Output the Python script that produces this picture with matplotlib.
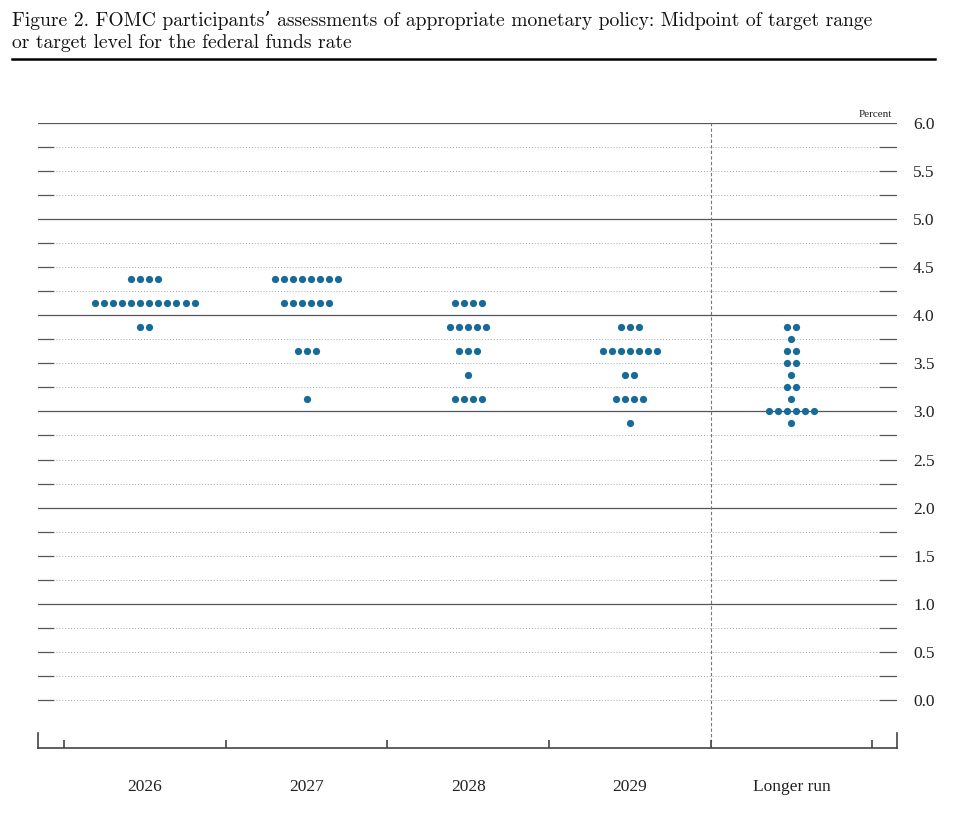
import matplotlib
matplotlib.use("Agg")
import matplotlib.pyplot as plt
import matplotlib.transforms as mtransforms
from matplotlib.lines import Line2D
import numpy as np

# ---------------- data ----------------
categories = ["2026", "2027", "2028", "2029", "Longer run"]
rate_levels = [4.375, 4.125, 3.875, 3.75, 3.625, 3.5, 3.375, 3.25, 3.125, 3.0, 2.875]
counts_2026 = [4, 12, 2, 0, 0, 0, 0, 0, 0, 0, 0]
counts_2027 = [8, 6, 0, 0, 3, 0, 0, 0, 1, 0, 0]
counts_2028 = [0, 4, 5, 0, 3, 0, 1, 0, 4, 0, 0]
counts_2029 = [0, 0, 3, 0, 7, 0, 2, 0, 4, 0, 1]
counts_longer = [0, 0, 2, 1, 2, 2, 1, 2, 1, 6, 1]
ytick_values = [0.0, 0.5, 1.0, 1.5, 2.0, 2.5, 3.0, 3.5, 4.0, 4.5, 5.0, 5.5, 6.0]
ytick_labels = ["0.0", "0.5", "1.0", "1.5", "2.0", "2.5", "3.0", "3.5", "4.0", "4.5", "5.0", "5.5", "6.0"]
title = ("Figure 2. FOMC participants’ assessments of appropriate monetary policy: Midpoint of target range\n"
         "or target level for the federal funds rate")

all_counts = [counts_2026, counts_2027, counts_2028, counts_2029, counts_longer]

# ---------------- figure ----------------
serif = ["Liberation Serif", "DejaVu Serif"]
fig = plt.figure(figsize=(9.6, 8.17), dpi=100)
ax = fig.add_axes([38 / 960, 1 - 748 / 817, (897 - 38) / 960, (748 - 123) / 817])

x_left, x_right = -0.662, 4.653
ax.set_xlim(x_left, x_right)
ax.set_ylim(-0.5, 6.0)

dot_color = "#176b9b"
spacing = 0.0557
for ci, counts in enumerate(all_counts):
    for rate, n in zip(rate_levels, counts):
        if n == 0:
            continue
        xs = ci + (np.arange(n) - (n - 1) / 2) * spacing
        ax.plot(xs, [rate] * n, "o", color=dot_color, markersize=5.2,
                markeredgewidth=0, zorder=5, clip_on=False)

# gridlines
blend = mtransforms.blended_transform_factory(ax.transAxes, ax.transData)
stub_l = (53 - 38) / 859
stub_r = (880 - 38) / 859
for g in np.arange(0, 6.01, 0.25):
    if abs(g - round(g)) < 1e-9 and g > 0:
        ax.add_line(Line2D([0, 1], [g, g], transform=blend, color="#555555", lw=0.9, zorder=1))
    else:
        ax.add_line(Line2D([stub_l, stub_r], [g, g], transform=blend, color="#a5a5a5",
                           lw=0.7, linestyle=(0, (1, 2)), zorder=1))
        ax.add_line(Line2D([0, stub_l], [g, g], transform=blend, color="#555555", lw=0.9, zorder=1))
        ax.add_line(Line2D([stub_r, 1], [g, g], transform=blend, color="#555555", lw=0.9, zorder=1))

# dashed separator before Longer run
ax.axvline(3.5, color="#777777", lw=0.8, linestyle=(0, (3, 2)), zorder=1)

# spines
for s in ["top", "left", "right"]:
    ax.spines[s].set_visible(False)
ax.spines["bottom"].set_color("#444444")
ax.spines["bottom"].set_linewidth(1.2)
blend2 = mtransforms.blended_transform_factory(ax.transAxes, ax.transData)
for xa in [0, 1]:
    ax.add_line(Line2D([xa, xa], [-0.5, -0.5 + 15 / 96.17], transform=blend2,
                       color="#444444", lw=1.2, clip_on=False))

# x ticks
ax.set_xticks(range(len(categories)))
ax.set_xticklabels(categories, fontfamily=serif, fontsize=12.5, color="#222222")
ax.tick_params(axis="x", which="major", length=0, pad=22.5)
ax.set_xticks(np.arange(-0.5, 4.51, 1.0), minor=True)
ax.tick_params(axis="x", which="minor", direction="in", length=6, width=1.2, color="#444444")

# y ticks on right
ax.yaxis.tick_right()
ax.set_yticks(ytick_values)
ax.set_yticklabels(ytick_labels, fontfamily=serif, fontsize=12.5, color="#222222")
ax.tick_params(axis="y", length=0, pad=11.5)

ax.text(0.994, 1.006, "Percent", transform=ax.transAxes, ha="right", va="bottom",
        fontfamily=serif, fontsize=8, color="#222222")

# title
fig.text(12 / 960, 1 - 11 / 817, title, ha="left", va="top",
         fontfamily=["cmr10", "DejaVu Serif"], fontsize=14.1, color="#111111", linespacing=1.32)
fig.add_artist(Line2D([12 / 960, 935 / 960], [1 - 59 / 817, 1 - 59 / 817],
                      transform=fig.transFigure, color="black", lw=1.8))

fig.savefig("out.png", dpi=100)
